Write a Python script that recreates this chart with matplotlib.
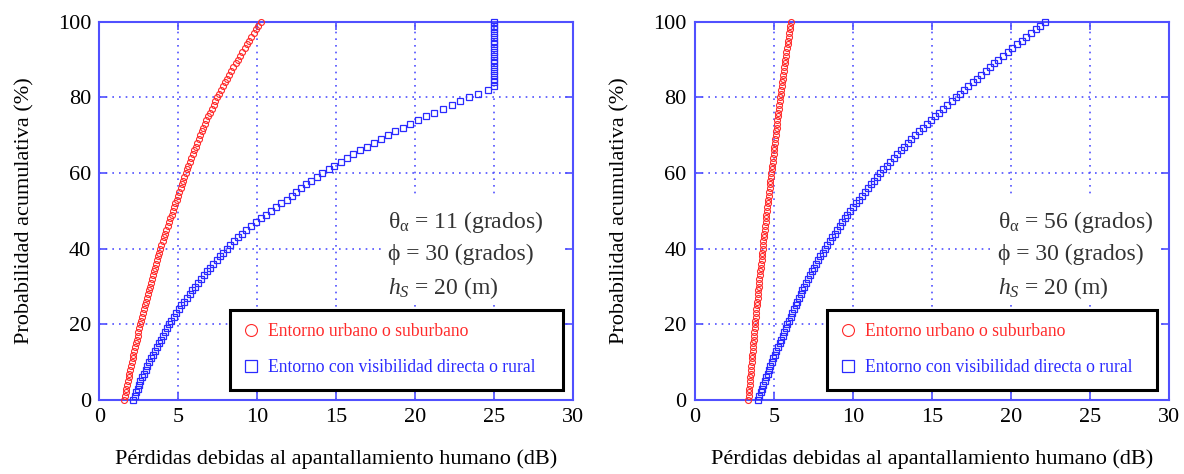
import matplotlib
matplotlib.use("Agg")
import matplotlib.pyplot as plt
from matplotlib.patches import Rectangle
import numpy as np

plt.rcParams['font.family'] = ['Liberation Serif', 'DejaVu Serif']
plt.rcParams['mathtext.fontset'] = 'custom'
plt.rcParams['mathtext.rm'] = 'Liberation Serif'
plt.rcParams['mathtext.it'] = 'Liberation Serif:italic'

# cumulative probability (%), one marker per percent
prob = np.arange(101)

# left panel: theta_a = 11 deg
urban_left = [
    1.56, 1.61, 1.66, 1.71, 1.76, 1.80, 1.85, 1.90, 1.95, 2.00,
    2.05, 2.10, 2.16, 2.21, 2.26, 2.32, 2.37, 2.42, 2.47, 2.53,
    2.58, 2.64, 2.70, 2.76, 2.82, 2.88, 2.94, 3.00, 3.06, 3.12,
    3.18, 3.25, 3.31, 3.38, 3.44, 3.51, 3.58, 3.64, 3.71, 3.78,
    3.85, 3.93, 4.01, 4.09, 4.17, 4.25, 4.33, 4.41, 4.49, 4.57,
    4.65, 4.73, 4.81, 4.90, 4.98, 5.06, 5.14, 5.22, 5.30, 5.38,
    5.46, 5.55, 5.64, 5.73, 5.82, 5.91, 6.00, 6.09, 6.18, 6.28,
    6.37, 6.47, 6.57, 6.68, 6.78, 6.89, 7.00, 7.11, 7.23, 7.34,
    7.45, 7.58, 7.71, 7.84, 7.97, 8.10, 8.23, 8.36, 8.49, 8.62,
    8.75, 8.90, 9.04, 9.19, 9.33, 9.48, 9.63, 9.77, 9.92, 10.06,
    10.21,
]
rural_left = [
    2.15, 2.24, 2.33, 2.42, 2.51, 2.60, 2.71, 2.82, 2.93, 3.04,
    3.15, 3.27, 3.39, 3.51, 3.63, 3.75, 3.88, 4.01, 4.14, 4.27,
    4.40, 4.56, 4.72, 4.88, 5.04, 5.20, 5.37, 5.54, 5.71, 5.88,
    6.05, 6.24, 6.43, 6.62, 6.81, 7.00, 7.21, 7.42, 7.63, 7.84,
    8.05, 8.30, 8.55, 8.80, 9.05, 9.30, 9.61, 9.92, 10.23, 10.54,
    10.85, 11.18, 11.51, 11.85, 12.18, 12.43, 12.75, 13.08, 13.42, 13.76,
    14.12, 14.52, 14.88, 15.28, 15.68, 16.08, 16.50, 16.94, 17.37, 17.81,
    18.27, 18.74, 19.20, 19.68, 20.15, 20.68, 21.20, 21.73, 22.30, 22.81,
    23.42, 23.99, 24.58, 25.0, 25.0, 25.0, 25.0, 25.0, 25.0, 25.0,
    25.0, 25.0, 25.0, 25.0, 25.0, 25.0, 25.0, 25.0, 25.0, 25.0,
    25.0,
]

# right panel: theta_a = 56 deg
urban_right = [
    3.38, 3.40, 3.42, 3.44, 3.46, 3.48, 3.50, 3.52, 3.54, 3.56,
    3.58, 3.60, 3.62, 3.65, 3.67, 3.69, 3.71, 3.73, 3.76, 3.78,
    3.80, 3.82, 3.85, 3.87, 3.89, 3.92, 3.94, 3.96, 3.98, 4.01,
    4.03, 4.06, 4.08, 4.11, 4.13, 4.16, 4.18, 4.21, 4.23, 4.26,
    4.28, 4.31, 4.33, 4.36, 4.39, 4.42, 4.44, 4.47, 4.50, 4.52,
    4.55, 4.58, 4.61, 4.63, 4.66, 4.69, 4.72, 4.75, 4.77, 4.80,
    4.83, 4.86, 4.88, 4.91, 4.94, 4.97, 4.99, 5.02, 5.05, 5.07,
    5.10, 5.13, 5.16, 5.19, 5.22, 5.25, 5.28, 5.31, 5.34, 5.37,
    5.40, 5.43, 5.46, 5.50, 5.53, 5.56, 5.59, 5.62, 5.66, 5.69,
    5.72, 5.76, 5.79, 5.83, 5.86, 5.90, 5.94, 5.97, 6.01, 6.04,
    6.08,
]
rural_right = [
    3.97, 4.06, 4.15, 4.23, 4.32, 4.41, 4.50, 4.59, 4.67, 4.76,
    4.85, 4.95, 5.05, 5.15, 5.25, 5.35, 5.45, 5.55, 5.65, 5.75,
    5.85, 5.96, 6.06, 6.17, 6.27, 6.38, 6.48, 6.59, 6.69, 6.80,
    6.90, 7.03, 7.16, 7.29, 7.42, 7.55, 7.68, 7.81, 7.94, 8.07,
    8.20, 8.36, 8.52, 8.68, 8.84, 9.00, 9.16, 9.32, 9.48, 9.64,
    9.80, 9.99, 10.18, 10.37, 10.56, 10.75, 10.94, 11.13, 11.32, 11.51,
    11.70, 11.92, 12.14, 12.36, 12.58, 12.80, 13.02, 13.24, 13.46, 13.68,
    13.90, 14.16, 14.42, 14.68, 14.94, 15.20, 15.46, 15.72, 15.98, 16.24,
    16.50, 16.77, 17.04, 17.31, 17.58, 17.85, 18.12, 18.39, 18.66, 18.93,
    19.20, 19.50, 19.79, 20.09, 20.38, 20.68, 20.97, 21.27, 21.56, 21.86,
    22.15,
]

theta_vals = ['11', '56']
phi_val = '30'
hs_val = '20'
labels = ['Entorno urbano o suburbano', 'Entorno con visibilidad directa o rural']
xlabel = 'Pérdidas debidas al apantallamiento humano (dB)'
ylabel = 'Probabilidad acumulativa (%)'

red = '#ff2a2a'
blue = '#2a2aff'
frame_blue = '#5050ff'

fig = plt.figure(figsize=(11.84, 4.74), dpi=100)
ax_left = fig.add_axes([0.0839, 0.156, 0.4003, 0.798])
ax_right = fig.add_axes([0.587, 0.156, 0.4003, 0.798])

# (axes, urban, rural, theta, text x, legend box x0, legend box x1)
panels = [
    (ax_left, urban_left, rural_left, theta_vals[0], 0.609, 0.276, 0.978),
    (ax_right, urban_right, rural_right, theta_vals[1], 0.639, 0.278, 0.974),
]

for ax, urban, rural, theta, tx, lx0, lx1 in panels:
    ax.set_xlim(0, 30)
    ax.set_ylim(0, 100)
    ax.set_xticks(range(0, 31, 5))
    ax.set_yticks(range(0, 101, 20))
    ax.set_axisbelow(True)
    ax.grid(True, color=frame_blue, linestyle=(0, (1, 3)), linewidth=1.2)
    for sp in ax.spines.values():
        sp.set_color(frame_blue)
        sp.set_linewidth(1.5)
    ax.tick_params(direction='in', length=6, width=1.2, color=frame_blue,
                   top=True, right=True, labelsize=16, labelcolor='black', pad=6)

    # white area behind the parameter text
    ax.add_patch(Rectangle((tx - 0.01, 0.25), 0.975 - tx + 0.01, 0.29,
                           transform=ax.transAxes, facecolor='white',
                           edgecolor='none', zorder=1))

    ax.plot(urban, prob, linestyle='none', marker='o', markersize=4.3,
            markerfacecolor='none', markeredgecolor=red, markeredgewidth=0.8,
            label=labels[0], clip_on=False, zorder=3)
    ax.plot(rural, prob, linestyle='none', marker='s', markersize=4.6,
            markerfacecolor='none', markeredgecolor=blue, markeredgewidth=0.9,
            label=labels[1], clip_on=False, zorder=3)

    txt_kw = dict(transform=ax.transAxes, fontsize=17, color='#333333',
                  va='center', ha='left', zorder=4)
    ax.text(tx, 0.471, 'θ$_{\\mathregular{α}}$ = ' + theta + ' (grados)', **txt_kw)
    ax.text(tx, 0.384, '\u03d5 = ' + phi_val + ' (grados)', **txt_kw)
    ax.text(tx, 0.296, '$h_S$ = ' + hs_val + ' (m)', **txt_kw)

    # legend box drawn by hand so it can be wider than its content
    ax.add_patch(Rectangle((lx0, 0.026), lx1 - lx0, 0.211,
                           transform=ax.transAxes, facecolor='white',
                           edgecolor='black', linewidth=2.2, zorder=5))
    leg = ax.legend(loc='upper left', bbox_to_anchor=(lx0, 0.237),
                    fontsize=12.7, frameon=False, markerscale=2.0,
                    labelspacing=1.1, handlelength=1.0, handletextpad=0.45,
                    borderpad=0.7, borderaxespad=0)
    leg.set_zorder(6)
    for t, c in zip(leg.get_texts(), [red, blue]):
        t.set_color(c)

    ax.set_xlabel(xlabel, fontsize=16, labelpad=16)
    ax.set_ylabel(ylabel, fontsize=16, labelpad=17)

fig.savefig('out.png', dpi=100)
